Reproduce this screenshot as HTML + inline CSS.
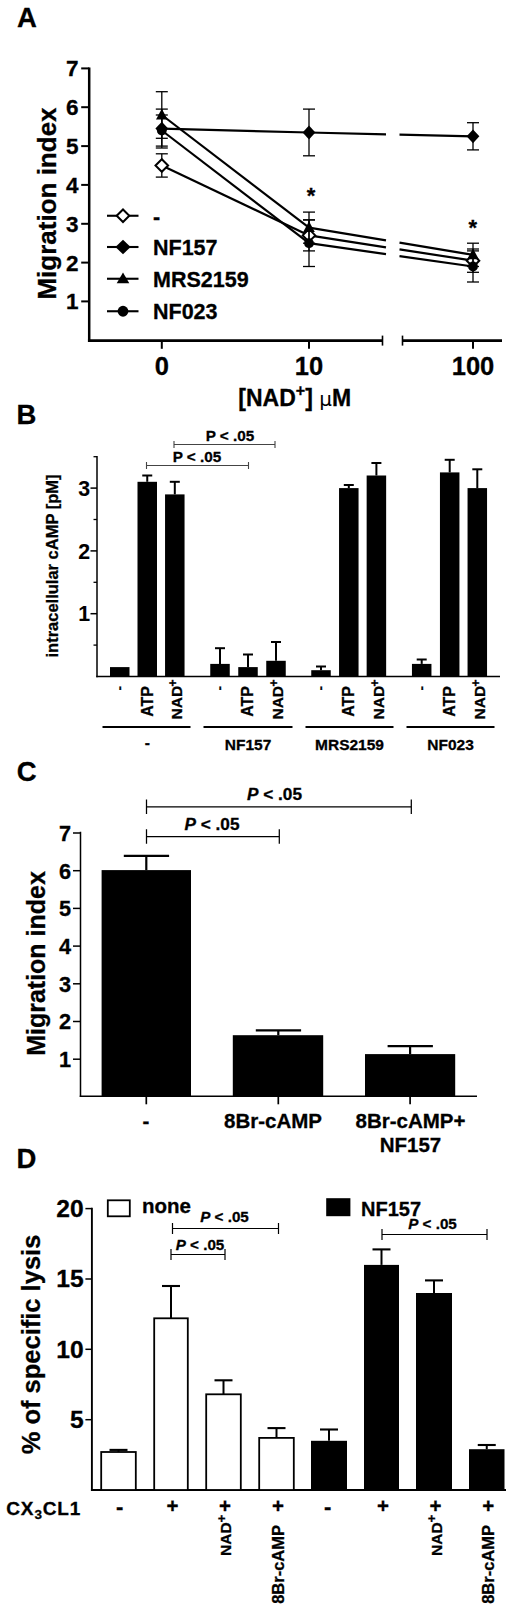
<!DOCTYPE html>
<html><head><meta charset="utf-8"><title>Figure</title>
<style>html,body{margin:0;padding:0;background:#fff}svg{display:block}</style></head>
<body>
<svg width="520" height="1611" viewBox="0 0 520 1611" font-family="Liberation Sans, sans-serif" fill="#000"><style>text{stroke:#000;stroke-width:0.3px;paint-order:stroke}</style>
<text x="17" y="27.2" font-size="27.5" font-weight="bold" text-anchor="start" >A</text>
<line x1="89.2" y1="67.4" x2="89.2" y2="341.90000000000003" stroke="#000" stroke-width="2.5" />
<line x1="81.2" y1="301.4" x2="89.2" y2="301.4" stroke="#000" stroke-width="2" />
<text x="78.5" y="309.4" font-size="22.5" font-weight="bold" text-anchor="end" >1</text>
<line x1="81.2" y1="262.6" x2="89.2" y2="262.6" stroke="#000" stroke-width="2" />
<text x="78.5" y="270.6" font-size="22.5" font-weight="bold" text-anchor="end" >2</text>
<line x1="81.2" y1="223.8" x2="89.2" y2="223.8" stroke="#000" stroke-width="2" />
<text x="78.5" y="231.8" font-size="22.5" font-weight="bold" text-anchor="end" >3</text>
<line x1="81.2" y1="184.9" x2="89.2" y2="184.9" stroke="#000" stroke-width="2" />
<text x="78.5" y="192.9" font-size="22.5" font-weight="bold" text-anchor="end" >4</text>
<line x1="81.2" y1="146.1" x2="89.2" y2="146.1" stroke="#000" stroke-width="2" />
<text x="78.5" y="154.1" font-size="22.5" font-weight="bold" text-anchor="end" >5</text>
<line x1="81.2" y1="107.2" x2="89.2" y2="107.2" stroke="#000" stroke-width="2" />
<text x="78.5" y="115.2" font-size="22.5" font-weight="bold" text-anchor="end" >6</text>
<line x1="81.2" y1="68.4" x2="89.2" y2="68.4" stroke="#000" stroke-width="2" />
<text x="78.5" y="76.4" font-size="22.5" font-weight="bold" text-anchor="end" >7</text>
<text x="56" y="203.5" font-size="26" font-weight="bold" text-anchor="middle" transform="rotate(-90 56 203.5)" >Migration index</text>
<line x1="87.95" y1="340.6" x2="383" y2="340.6" stroke="#000" stroke-width="2.7" />
<line x1="382.5" y1="335.6" x2="382.5" y2="345.6" stroke="#000" stroke-width="1.6" />
<line x1="402" y1="340.6" x2="502" y2="340.6" stroke="#000" stroke-width="2.7" />
<line x1="402.5" y1="335.6" x2="402.5" y2="345.6" stroke="#000" stroke-width="1.6" />
<line x1="161.8" y1="340.3" x2="161.8" y2="348.8" stroke="#000" stroke-width="2" />
<text x="161.8" y="374.5" font-size="25.5" font-weight="bold" text-anchor="middle" >0</text>
<line x1="309" y1="340.3" x2="309" y2="348.8" stroke="#000" stroke-width="2" />
<text x="309" y="374.5" font-size="25.5" font-weight="bold" text-anchor="middle" >10</text>
<line x1="473" y1="340.3" x2="473" y2="348.8" stroke="#000" stroke-width="2" />
<text x="473" y="374.5" font-size="25.5" font-weight="bold" text-anchor="middle" >100</text>
<text x="238.3" y="405.5" font-size="23" font-weight="bold" text-anchor="start">[NAD<tspan dy="-10" font-size="16">+</tspan><tspan dy="10">] </tspan><tspan font-family="DejaVu Sans, sans-serif" font-weight="normal" font-size="20" style="stroke-width:0">μ</tspan>M</text>
<line x1="161.8" y1="165.5" x2="309" y2="235.4" stroke="#000" stroke-width="2.2" />
<line x1="309" y1="235.4" x2="386" y2="247.3" stroke="#000" stroke-width="2.2" />
<line x1="399.5" y1="249.4" x2="473" y2="260.7" stroke="#000" stroke-width="2.2" />
<line x1="161.8" y1="153.8" x2="161.8" y2="177.1" stroke="#000" stroke-width="1.3" />
<line x1="155.8" y1="153.8" x2="167.8" y2="153.8" stroke="#000" stroke-width="1.3" />
<line x1="155.8" y1="177.1" x2="167.8" y2="177.1" stroke="#000" stroke-width="1.3" />
<line x1="309" y1="219.9" x2="309" y2="250.9" stroke="#000" stroke-width="1.3" />
<line x1="303" y1="219.9" x2="315" y2="219.9" stroke="#000" stroke-width="1.3" />
<line x1="303" y1="250.9" x2="315" y2="250.9" stroke="#000" stroke-width="1.3" />
<line x1="473" y1="249.0" x2="473" y2="272.3" stroke="#000" stroke-width="1.3" />
<line x1="467" y1="249.0" x2="479" y2="249.0" stroke="#000" stroke-width="1.3" />
<line x1="467" y1="272.3" x2="479" y2="272.3" stroke="#000" stroke-width="1.3" />
<path d="M155.5,165.5 L161.8,159.2 L168.10000000000002,165.5 L161.8,171.8 Z" fill="#fff" stroke="#000" stroke-width="2"/>
<path d="M302.7,235.4 L309,229.1 L315.3,235.4 L309,241.70000000000002 Z" fill="#fff" stroke="#000" stroke-width="2"/>
<path d="M466.7,260.7 L473,254.39999999999998 L479.3,260.7 L473,267.0 Z" fill="#fff" stroke="#000" stroke-width="2"/>
<line x1="161.8" y1="128.6" x2="309" y2="132.5" stroke="#000" stroke-width="2.2" />
<line x1="309" y1="132.5" x2="386" y2="134.3" stroke="#000" stroke-width="2.2" />
<line x1="399.5" y1="134.6" x2="473" y2="136.3" stroke="#000" stroke-width="2.2" />
<line x1="161.8" y1="109.1" x2="161.8" y2="148.0" stroke="#000" stroke-width="1.3" />
<line x1="155.8" y1="109.1" x2="167.8" y2="109.1" stroke="#000" stroke-width="1.3" />
<line x1="155.8" y1="148.0" x2="167.8" y2="148.0" stroke="#000" stroke-width="1.3" />
<line x1="309" y1="109.1" x2="309" y2="155.8" stroke="#000" stroke-width="1.3" />
<line x1="303" y1="109.1" x2="315" y2="109.1" stroke="#000" stroke-width="1.3" />
<line x1="303" y1="155.8" x2="315" y2="155.8" stroke="#000" stroke-width="1.3" />
<line x1="473" y1="122.7" x2="473" y2="149.9" stroke="#000" stroke-width="1.3" />
<line x1="467" y1="122.7" x2="479" y2="122.7" stroke="#000" stroke-width="1.3" />
<line x1="467" y1="149.9" x2="479" y2="149.9" stroke="#000" stroke-width="1.3" />
<path d="M155.4,128.6 L161.8,121.69999999999999 L168.20000000000002,128.6 L161.8,135.5 Z" fill="#000"/>
<path d="M302.6,132.5 L309,125.6 L315.4,132.5 L309,139.4 Z" fill="#000"/>
<path d="M466.6,136.3 L473,129.4 L479.4,136.3 L473,143.20000000000002 Z" fill="#000"/>
<line x1="161.8" y1="115.0" x2="309" y2="227.6" stroke="#000" stroke-width="2.2" />
<line x1="309" y1="227.6" x2="386" y2="240.4" stroke="#000" stroke-width="2.2" />
<line x1="399.5" y1="242.6" x2="473" y2="254.8" stroke="#000" stroke-width="2.2" />
<line x1="161.8" y1="91.7" x2="161.8" y2="138.3" stroke="#000" stroke-width="1.3" />
<line x1="155.8" y1="91.7" x2="167.8" y2="91.7" stroke="#000" stroke-width="1.3" />
<line x1="155.8" y1="138.3" x2="167.8" y2="138.3" stroke="#000" stroke-width="1.3" />
<line x1="309" y1="212.1" x2="309" y2="243.2" stroke="#000" stroke-width="1.3" />
<line x1="303" y1="212.1" x2="315" y2="212.1" stroke="#000" stroke-width="1.3" />
<line x1="303" y1="243.2" x2="315" y2="243.2" stroke="#000" stroke-width="1.3" />
<line x1="473" y1="243.2" x2="473" y2="266.5" stroke="#000" stroke-width="1.3" />
<line x1="467" y1="243.2" x2="479" y2="243.2" stroke="#000" stroke-width="1.3" />
<line x1="467" y1="266.5" x2="479" y2="266.5" stroke="#000" stroke-width="1.3" />
<path d="M156.0,119.5 L161.8,108.7 L167.60000000000002,119.5 Z" fill="#000"/>
<path d="M303.2,232.1 L309,221.29999999999998 L314.8,232.1 Z" fill="#000"/>
<path d="M467.2,259.3 L473,248.5 L478.8,259.3 Z" fill="#000"/>
<line x1="161.8" y1="130.5" x2="309" y2="243.2" stroke="#000" stroke-width="2.2" />
<line x1="309" y1="243.2" x2="386" y2="254.1" stroke="#000" stroke-width="2.2" />
<line x1="399.5" y1="256.1" x2="473" y2="266.5" stroke="#000" stroke-width="2.2" />
<line x1="161.8" y1="115.0" x2="161.8" y2="146.1" stroke="#000" stroke-width="1.3" />
<line x1="155.8" y1="115.0" x2="167.8" y2="115.0" stroke="#000" stroke-width="1.3" />
<line x1="155.8" y1="146.1" x2="167.8" y2="146.1" stroke="#000" stroke-width="1.3" />
<line x1="309" y1="219.9" x2="309" y2="266.5" stroke="#000" stroke-width="1.3" />
<line x1="303" y1="219.9" x2="315" y2="219.9" stroke="#000" stroke-width="1.3" />
<line x1="303" y1="266.5" x2="315" y2="266.5" stroke="#000" stroke-width="1.3" />
<line x1="473" y1="250.9" x2="473" y2="282.0" stroke="#000" stroke-width="1.3" />
<line x1="467" y1="250.9" x2="479" y2="250.9" stroke="#000" stroke-width="1.3" />
<line x1="467" y1="282.0" x2="479" y2="282.0" stroke="#000" stroke-width="1.3" />
<circle cx="161.8" cy="130.5" r="4.9" fill="#000"/>
<circle cx="309" cy="243.2" r="4.9" fill="#000"/>
<circle cx="473" cy="266.5" r="4.9" fill="#000"/>
<line x1="107" y1="215.75" x2="138.5" y2="215.75" stroke="#000" stroke-width="2.1" />
<path d="M116.7,215.75 L123,209.45 L129.3,215.75 L123,222.05 Z" fill="#fff" stroke="#000" stroke-width="2"/>
<text x="153" y="223.75" font-size="21.5" font-weight="bold" text-anchor="start" >-</text>
<line x1="107" y1="247" x2="138.5" y2="247" stroke="#000" stroke-width="2.1" />
<path d="M115.4,247 L123,239.7 L130.6,247 L123,254.3 Z" fill="#000"/>
<text x="153" y="255" font-size="21.5" font-weight="bold" text-anchor="start" >NF157</text>
<line x1="107" y1="278.75" x2="138.5" y2="278.75" stroke="#000" stroke-width="2.1" />
<path d="M116.7,283.25 L123,272.45 L129.3,283.25 Z" fill="#000"/>
<text x="153" y="286.75" font-size="21.5" font-weight="bold" text-anchor="start" >MRS2159</text>
<line x1="107" y1="311.25" x2="138.5" y2="311.25" stroke="#000" stroke-width="2.1" />
<circle cx="123" cy="311.25" r="5.4" fill="#000"/>
<text x="153" y="319.25" font-size="21.5" font-weight="bold" text-anchor="start" >NF023</text>
<text x="311" y="203" font-size="22" font-weight="bold" text-anchor="middle" >*</text>
<text x="472.8" y="234.5" font-size="22" font-weight="bold" text-anchor="middle" >*</text>
<text x="16.5" y="424" font-size="27.5" font-weight="bold" text-anchor="start" >B</text>
<line x1="97" y1="456" x2="97" y2="677.25" stroke="#000" stroke-width="1.5" />
<line x1="96.25" y1="676.5" x2="500" y2="676.5" stroke="#000" stroke-width="1.5" />
<line x1="93.5" y1="645.1" x2="97" y2="645.1" stroke="#000" stroke-width="1.3" />
<line x1="93.5" y1="582.3" x2="97" y2="582.3" stroke="#000" stroke-width="1.3" />
<line x1="93.5" y1="519.5" x2="97" y2="519.5" stroke="#000" stroke-width="1.3" />
<line x1="93.5" y1="456.7" x2="97" y2="456.7" stroke="#000" stroke-width="1.3" />
<line x1="90.5" y1="613.7" x2="97" y2="613.7" stroke="#000" stroke-width="1.5" />
<text x="90.2" y="621.4000000000001" font-size="21.3" font-weight="bold" text-anchor="end" style="stroke-width:0.1px">1</text>
<line x1="90.5" y1="550.9" x2="97" y2="550.9" stroke="#000" stroke-width="1.5" />
<text x="90.2" y="558.6" font-size="21.3" font-weight="bold" text-anchor="end" style="stroke-width:0.1px">2</text>
<line x1="90.5" y1="488.1" x2="97" y2="488.1" stroke="#000" stroke-width="1.5" />
<text x="90.2" y="495.8" font-size="21.3" font-weight="bold" text-anchor="end" style="stroke-width:0.1px">3</text>
<text x="58" y="566" font-size="16.5" font-weight="bold" text-anchor="middle" transform="rotate(-90 58 566)" >intracellular cAMP [pM]</text>
<rect x="110.0" y="667.1" width="19.5" height="9.399999999999977" fill="#000"/>
<text x="124.05" y="686" font-size="13.5" font-weight="bold" text-anchor="end" transform="rotate(-90 124.05 686)" >-</text>
<rect x="137.5" y="481.8" width="19.5" height="194.7" fill="#000"/>
<line x1="147.25" y1="475.5" x2="147.25" y2="481.8" stroke="#000" stroke-width="2" />
<line x1="142.25" y1="475.5" x2="152.25" y2="475.5" stroke="#000" stroke-width="2" />
<text x="152.55" y="686.3" font-size="15.8" font-weight="bold" text-anchor="end" transform="rotate(-90 152.55 686.3)" >ATP</text>
<rect x="165.05" y="494.4" width="19.5" height="182.10000000000002" fill="#000"/>
<line x1="174.8" y1="481.8" x2="174.8" y2="494.4" stroke="#000" stroke-width="2" />
<line x1="169.8" y1="481.8" x2="179.8" y2="481.8" stroke="#000" stroke-width="2" />
<text x="182.0" y="719.5" font-size="15.5" font-weight="bold" text-anchor="start" transform="rotate(-90 182.0 719.5)">NAD<tspan dy="-5" dx="-0.5" font-size="12">+</tspan></text>
<rect x="210.25" y="663.9" width="19.5" height="12.600000000000023" fill="#000"/>
<line x1="220" y1="648.2" x2="220" y2="663.9" stroke="#000" stroke-width="2" />
<line x1="215" y1="648.2" x2="225" y2="648.2" stroke="#000" stroke-width="2" />
<text x="224.3" y="686" font-size="13.5" font-weight="bold" text-anchor="end" transform="rotate(-90 224.3 686)" >-</text>
<rect x="238.25" y="667.1" width="19.5" height="9.399999999999977" fill="#000"/>
<line x1="248" y1="654.5" x2="248" y2="667.1" stroke="#000" stroke-width="2" />
<line x1="243" y1="654.5" x2="253" y2="654.5" stroke="#000" stroke-width="2" />
<text x="253.3" y="686.3" font-size="15.8" font-weight="bold" text-anchor="end" transform="rotate(-90 253.3 686.3)" >ATP</text>
<rect x="266.25" y="660.8" width="19.5" height="15.700000000000045" fill="#000"/>
<line x1="276" y1="642.0" x2="276" y2="660.8" stroke="#000" stroke-width="2" />
<line x1="271" y1="642.0" x2="281" y2="642.0" stroke="#000" stroke-width="2" />
<text x="283.2" y="719.5" font-size="15.5" font-weight="bold" text-anchor="start" transform="rotate(-90 283.2 719.5)">NAD<tspan dy="-5" dx="-0.5" font-size="12">+</tspan></text>
<rect x="311.25" y="670.2" width="19.5" height="6.2999999999999545" fill="#000"/>
<line x1="321" y1="666.5" x2="321" y2="670.2" stroke="#000" stroke-width="2" />
<line x1="316" y1="666.5" x2="326" y2="666.5" stroke="#000" stroke-width="2" />
<text x="325.3" y="686" font-size="13.5" font-weight="bold" text-anchor="end" transform="rotate(-90 325.3 686)" >-</text>
<rect x="339.05" y="488.1" width="19.5" height="188.39999999999998" fill="#000"/>
<line x1="348.8" y1="485.0" x2="348.8" y2="488.1" stroke="#000" stroke-width="2" />
<line x1="343.8" y1="485.0" x2="353.8" y2="485.0" stroke="#000" stroke-width="2" />
<text x="354.1" y="686.3" font-size="15.8" font-weight="bold" text-anchor="end" transform="rotate(-90 354.1 686.3)" >ATP</text>
<rect x="366.65" y="475.5" width="19.5" height="201.0" fill="#000"/>
<line x1="376.4" y1="463.0" x2="376.4" y2="475.5" stroke="#000" stroke-width="2" />
<line x1="371.4" y1="463.0" x2="381.4" y2="463.0" stroke="#000" stroke-width="2" />
<text x="383.59999999999997" y="719.5" font-size="15.5" font-weight="bold" text-anchor="start" transform="rotate(-90 383.59999999999997 719.5)">NAD<tspan dy="-5" dx="-0.5" font-size="12">+</tspan></text>
<rect x="411.95" y="663.9" width="19.5" height="12.600000000000023" fill="#000"/>
<line x1="421.7" y1="659.5" x2="421.7" y2="663.9" stroke="#000" stroke-width="2" />
<line x1="416.7" y1="659.5" x2="426.7" y2="659.5" stroke="#000" stroke-width="2" />
<text x="426.0" y="686" font-size="13.5" font-weight="bold" text-anchor="end" transform="rotate(-90 426.0 686)" >-</text>
<rect x="439.95" y="472.4" width="19.5" height="204.10000000000002" fill="#000"/>
<line x1="449.7" y1="459.8" x2="449.7" y2="472.4" stroke="#000" stroke-width="2" />
<line x1="444.7" y1="459.8" x2="454.7" y2="459.8" stroke="#000" stroke-width="2" />
<text x="455.0" y="686.3" font-size="15.8" font-weight="bold" text-anchor="end" transform="rotate(-90 455.0 686.3)" >ATP</text>
<rect x="467.55" y="488.1" width="19.5" height="188.39999999999998" fill="#000"/>
<line x1="477.3" y1="469.3" x2="477.3" y2="488.1" stroke="#000" stroke-width="2" />
<line x1="472.3" y1="469.3" x2="482.3" y2="469.3" stroke="#000" stroke-width="2" />
<text x="484.5" y="719.5" font-size="15.5" font-weight="bold" text-anchor="start" transform="rotate(-90 484.5 719.5)">NAD<tspan dy="-5" dx="-0.5" font-size="12">+</tspan></text>
<line x1="102.5" y1="727" x2="190.5" y2="727" stroke="#000" stroke-width="2" />
<text x="147.3" y="748.2" font-size="15.5" font-weight="bold" text-anchor="middle" >-</text>
<line x1="203.5" y1="727" x2="292.5" y2="727" stroke="#000" stroke-width="2" />
<text x="248.0" y="749.5" font-size="15.5" font-weight="bold" text-anchor="middle" >NF157</text>
<line x1="305.5" y1="727" x2="393.5" y2="727" stroke="#000" stroke-width="2" />
<text x="349.5" y="749.5" font-size="15.5" font-weight="bold" text-anchor="middle" >MRS2159</text>
<line x1="406.5" y1="727" x2="494.5" y2="727" stroke="#000" stroke-width="2" />
<text x="450.5" y="749.5" font-size="15.5" font-weight="bold" text-anchor="middle" >NF023</text>
<path d="M146.5,462.0V469.0M248.5,462.0V469.0M146.5,465.5H248.5" stroke="#444" stroke-width="1.1" fill="none"/>
<text x="197" y="462" font-size="15.3" font-weight="bold" text-anchor="middle">P &lt; .05</text>
<path d="M174,441.0V448.0M275,441.0V448.0M174,444.5H275" stroke="#444" stroke-width="1.1" fill="none"/>
<text x="230" y="441" font-size="15.3" font-weight="bold" text-anchor="middle">P &lt; .05</text>
<text x="16.8" y="780.6" font-size="27.5" font-weight="bold" text-anchor="start" >C</text>
<line x1="80.5" y1="831.65" x2="80.5" y2="1097.05" stroke="#000" stroke-width="1.5" />
<line x1="79.75" y1="1096.3" x2="477" y2="1096.3" stroke="#000" stroke-width="1.6" />
<line x1="73.0" y1="1059.1999999999998" x2="80.5" y2="1059.1999999999998" stroke="#000" stroke-width="1.5" />
<text x="71" y="1067.0" font-size="21.7" font-weight="bold" text-anchor="end" >1</text>
<line x1="73.0" y1="1021.5" x2="80.5" y2="1021.5" stroke="#000" stroke-width="1.5" />
<text x="71" y="1029.3" font-size="21.7" font-weight="bold" text-anchor="end" >2</text>
<line x1="73.0" y1="983.8000000000001" x2="80.5" y2="983.8000000000001" stroke="#000" stroke-width="1.5" />
<text x="71" y="991.6" font-size="21.7" font-weight="bold" text-anchor="end" >3</text>
<line x1="73.0" y1="946.1" x2="80.5" y2="946.1" stroke="#000" stroke-width="1.5" />
<text x="71" y="953.9" font-size="21.7" font-weight="bold" text-anchor="end" >4</text>
<line x1="73.0" y1="908.4" x2="80.5" y2="908.4" stroke="#000" stroke-width="1.5" />
<text x="71" y="916.1999999999999" font-size="21.7" font-weight="bold" text-anchor="end" >5</text>
<line x1="73.0" y1="870.7" x2="80.5" y2="870.7" stroke="#000" stroke-width="1.5" />
<text x="71" y="878.5" font-size="21.7" font-weight="bold" text-anchor="end" >6</text>
<line x1="73.0" y1="833.0" x2="80.5" y2="833.0" stroke="#000" stroke-width="1.5" />
<text x="71" y="840.8" font-size="21.7" font-weight="bold" text-anchor="end" >7</text>
<text x="45" y="963.5" font-size="25" font-weight="bold" text-anchor="middle" transform="rotate(-90 45 963.5)" >Migration index</text>
<rect x="101.6" y="870.1" width="89.4" height="226.19999999999993" fill="#000"/>
<line x1="146.3" y1="855.8" x2="146.3" y2="870.1" stroke="#000" stroke-width="2.2" />
<line x1="123.80000000000001" y1="855.8" x2="169.10000000000002" y2="855.8" stroke="#000" stroke-width="2.3" />
<line x1="146.3" y1="1096.3" x2="146.3" y2="1104.3" stroke="#000" stroke-width="1.7" />
<rect x="232.8" y="1035.2" width="90.39999999999998" height="61.09999999999991" fill="#000"/>
<line x1="278.3" y1="1030.3" x2="278.3" y2="1035.2" stroke="#000" stroke-width="2.2" />
<line x1="255.8" y1="1030.3" x2="301.1" y2="1030.3" stroke="#000" stroke-width="2.3" />
<line x1="278.3" y1="1096.3" x2="278.3" y2="1104.3" stroke="#000" stroke-width="1.7" />
<rect x="365" y="1054.1" width="90.19999999999999" height="42.200000000000045" fill="#000"/>
<line x1="410.1" y1="1046.2" x2="410.1" y2="1054.1" stroke="#000" stroke-width="2.2" />
<line x1="387.6" y1="1046.2" x2="432.90000000000003" y2="1046.2" stroke="#000" stroke-width="2.3" />
<line x1="410.1" y1="1096.3" x2="410.1" y2="1104.3" stroke="#000" stroke-width="1.7" />
<text x="146" y="1127.5" font-size="20.5" font-weight="bold" text-anchor="middle" >-</text>
<text x="273" y="1127.8" font-size="20.5" font-weight="bold" text-anchor="middle" >8Br-cAMP</text>
<text x="410.5" y="1127.8" font-size="20.5" font-weight="bold" text-anchor="middle" >8Br-cAMP+</text>
<text x="410.5" y="1152" font-size="20.5" font-weight="bold" text-anchor="middle" >NF157</text>
<path d="M146.5,799.5999999999999V814.0M411.3,799.5999999999999V814.0M146.5,806.8H411.3" stroke="#000" stroke-width="1.25" fill="none"/>
<text x="274.5" y="800" font-size="17.2" font-weight="bold" text-anchor="middle"><tspan font-style="italic">P</tspan> &lt; .05</text>
<path d="M146.5,829.3V843.7M279.3,829.3V843.7M146.5,836.5H279.3" stroke="#000" stroke-width="1.25" fill="none"/>
<text x="212" y="830" font-size="17.2" font-weight="bold" text-anchor="middle"><tspan font-style="italic">P</tspan> &lt; .05</text>
<text x="16.5" y="1167.5" font-size="27.5" font-weight="bold" text-anchor="start" >D</text>
<line x1="91.9" y1="1207.6999999999998" x2="91.9" y2="1491" stroke="#000" stroke-width="1.9" />
<line x1="90.95" y1="1490" x2="506" y2="1490" stroke="#000" stroke-width="2" />
<line x1="85.4" y1="1419.7" x2="91.9" y2="1419.7" stroke="#000" stroke-width="1.5" />
<text x="83.7" y="1428.1000000000001" font-size="24.6" font-weight="bold" text-anchor="end" >5</text>
<line x1="85.4" y1="1349.3" x2="91.9" y2="1349.3" stroke="#000" stroke-width="1.5" />
<text x="83.7" y="1357.7" font-size="24.6" font-weight="bold" text-anchor="end" >10</text>
<line x1="85.4" y1="1279.0" x2="91.9" y2="1279.0" stroke="#000" stroke-width="1.5" />
<text x="83.7" y="1287.4" font-size="24.6" font-weight="bold" text-anchor="end" >15</text>
<line x1="85.4" y1="1208.6" x2="91.9" y2="1208.6" stroke="#000" stroke-width="1.5" />
<text x="83.7" y="1217.0" font-size="24.6" font-weight="bold" text-anchor="end" >20</text>
<text x="39.5" y="1344.5" font-size="25.5" font-weight="bold" text-anchor="middle" transform="rotate(-90 39.5 1344.5)" >% of specific lysis</text>
<rect x="101.2" y="1452.0" width="34.6" height="38.0" fill="#fff" stroke="#000" stroke-width="1.8"/>
<line x1="118.5" y1="1449.9" x2="118.5" y2="1452.0" stroke="#000" stroke-width="2" />
<line x1="109.5" y1="1449.9" x2="127.5" y2="1449.9" stroke="#000" stroke-width="2.1" />
<text x="119.7" y="1513.8" font-size="22" font-weight="bold" text-anchor="middle" >-</text>
<rect x="154.2" y="1318.3" width="33.6" height="171.70000000000005" fill="#fff" stroke="#000" stroke-width="1.8"/>
<line x1="171.0" y1="1286.0" x2="171.0" y2="1318.3" stroke="#000" stroke-width="2" />
<line x1="162.0" y1="1286.0" x2="180.0" y2="1286.0" stroke="#000" stroke-width="2.1" />
<text x="172.5" y="1513" font-size="20.5" font-weight="bold" text-anchor="middle" >+</text>
<rect x="206.2" y="1394.3" width="34.6" height="95.70000000000005" fill="#fff" stroke="#000" stroke-width="1.8"/>
<line x1="223.5" y1="1380.3" x2="223.5" y2="1394.3" stroke="#000" stroke-width="2" />
<line x1="214.5" y1="1380.3" x2="232.5" y2="1380.3" stroke="#000" stroke-width="2.1" />
<text x="225.0" y="1513" font-size="20.5" font-weight="bold" text-anchor="middle" >+</text>
<text x="231.0" y="1556" font-size="15.5" font-weight="bold" text-anchor="start" transform="rotate(-90 231.0 1556)">NAD<tspan dy="-5.5" font-size="13.5">+</tspan></text>
<rect x="259.2" y="1437.9" width="34.6" height="52.09999999999991" fill="#fff" stroke="#000" stroke-width="1.8"/>
<line x1="276.5" y1="1428.1" x2="276.5" y2="1437.9" stroke="#000" stroke-width="2" />
<line x1="267.5" y1="1428.1" x2="285.5" y2="1428.1" stroke="#000" stroke-width="2.1" />
<text x="278.0" y="1513" font-size="20.5" font-weight="bold" text-anchor="middle" >+</text>
<text x="283.5" y="1525" font-size="16.5" font-weight="bold" text-anchor="end" transform="rotate(-90 283.5 1525)" >8Br-cAMP</text>
<rect x="311" y="1440.8" width="36" height="49.200000000000045" fill="#000"/>
<line x1="329.0" y1="1429.5" x2="329.0" y2="1440.8" stroke="#000" stroke-width="2" />
<line x1="320.0" y1="1429.5" x2="338.0" y2="1429.5" stroke="#000" stroke-width="2.1" />
<text x="327.6" y="1513.8" font-size="22" font-weight="bold" text-anchor="middle" >-</text>
<rect x="364" y="1264.9" width="35" height="225.0999999999999" fill="#000"/>
<line x1="381.5" y1="1249.4" x2="381.5" y2="1264.9" stroke="#000" stroke-width="2" />
<line x1="372.5" y1="1249.4" x2="390.5" y2="1249.4" stroke="#000" stroke-width="2.1" />
<text x="383.0" y="1513" font-size="20.5" font-weight="bold" text-anchor="middle" >+</text>
<rect x="416" y="1293.0" width="36" height="197.0" fill="#000"/>
<line x1="434.0" y1="1280.4" x2="434.0" y2="1293.0" stroke="#000" stroke-width="2" />
<line x1="425.0" y1="1280.4" x2="443.0" y2="1280.4" stroke="#000" stroke-width="2.1" />
<text x="435.5" y="1513" font-size="20.5" font-weight="bold" text-anchor="middle" >+</text>
<text x="441.5" y="1556" font-size="15.5" font-weight="bold" text-anchor="start" transform="rotate(-90 441.5 1556)">NAD<tspan dy="-5.5" font-size="13.5">+</tspan></text>
<rect x="469" y="1449.2" width="35.5" height="40.799999999999955" fill="#000"/>
<line x1="486.75" y1="1445.0" x2="486.75" y2="1449.2" stroke="#000" stroke-width="2" />
<line x1="477.75" y1="1445.0" x2="495.75" y2="1445.0" stroke="#000" stroke-width="2.1" />
<text x="488.25" y="1513" font-size="20.5" font-weight="bold" text-anchor="middle" >+</text>
<text x="493.75" y="1525" font-size="16.5" font-weight="bold" text-anchor="end" transform="rotate(-90 493.75 1525)" >8Br-cAMP</text>
<text x="6.3" y="1515" font-size="19" font-weight="bold" letter-spacing="0.85">CX<tspan dy="4" font-size="13.5">3</tspan><tspan dy="-4">CL1</tspan></text>
<rect x="107.8" y="1200.3" width="22" height="16" fill="#fff" stroke="#000" stroke-width="1.8"/>
<text x="142" y="1212.5" font-size="20.5" font-weight="bold" text-anchor="start" >none</text>
<rect x="326.2" y="1198.2" width="24.2" height="18" fill="#000"/>
<text x="361" y="1215.5" font-size="20" font-weight="bold" text-anchor="start" >NF157</text>
<path d="M172.5,1222.9V1234.1M278.5,1222.9V1234.1M172.5,1228.5H278.5" stroke="#000" stroke-width="1.2" fill="none"/>
<text x="224.5" y="1221.5" font-size="15.2" font-weight="bold" text-anchor="middle"><tspan font-style="italic">P</tspan> &lt; .05</text>
<path d="M171,1249.0V1260.0M225,1249.0V1260.0M171,1254.5H225" stroke="#000" stroke-width="1.2" fill="none"/>
<text x="200" y="1249.7" font-size="15.2" font-weight="bold" text-anchor="middle"><tspan font-style="italic">P</tspan> &lt; .05</text>
<path d="M382,1228.9V1240.1M487,1228.9V1240.1M382,1234.5H487" stroke="#000" stroke-width="1.2" fill="none"/>
<text x="432.5" y="1229.3" font-size="15.2" font-weight="bold" text-anchor="middle"><tspan font-style="italic">P</tspan> &lt; .05</text>
</svg>
</body></html>
